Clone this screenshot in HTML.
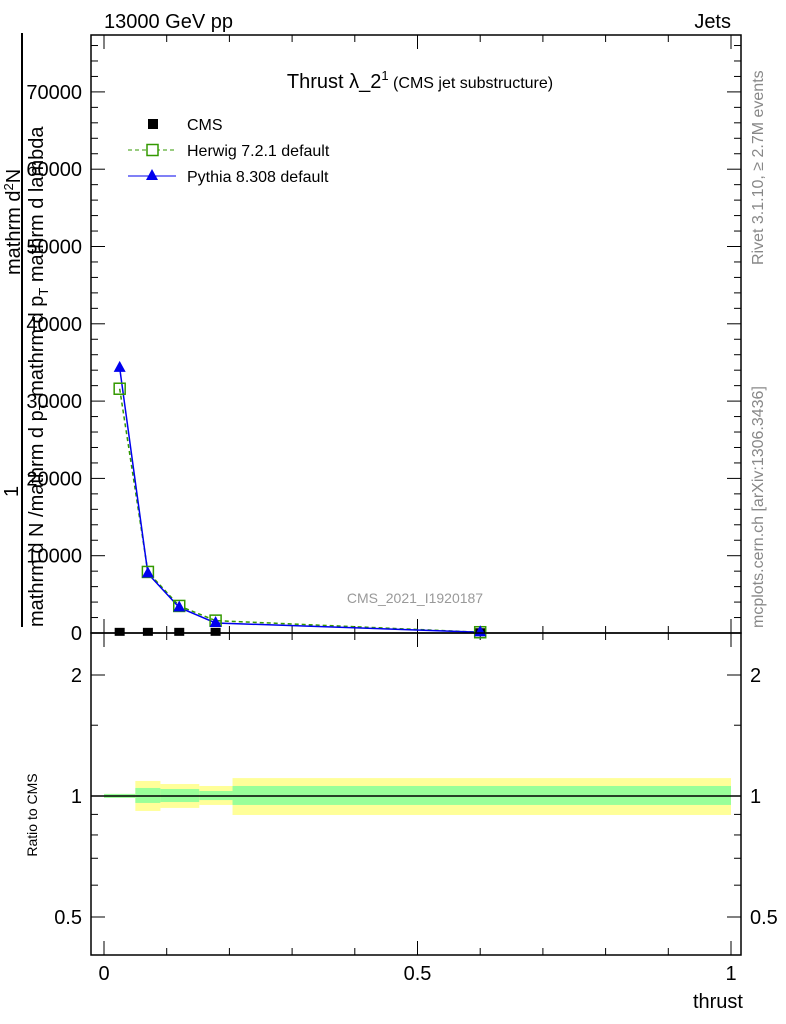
<!DOCTYPE html>
<html><head><meta charset="utf-8"><style>
body{margin:0;background:#fff}
svg{display:block;font-family:"Liberation Sans",sans-serif}
</style></head><body>
<svg id="c" width="786" height="1024" viewBox="0 0 786 1024">
<text x="104" y="28" font-size="20">13000 GeV pp</text>
<text x="731" y="28" font-size="20" text-anchor="end">Jets</text>
<text x="420" y="88" font-size="20" text-anchor="middle">Thrust λ_2<tspan dy="-8" font-size="13">1</tspan><tspan dy="8" font-size="16"> (CMS jet substructure)</tspan></text>
<text x="415" y="603" font-size="14" fill="#999" text-anchor="middle">CMS_2021_I1920187</text>
<g font-size="16" fill="#888">
<text transform="translate(763,265) rotate(-90)">Rivet 3.1.10, ≥ 2.7M events</text>
<text transform="translate(763,628) rotate(-90)">mcplots.cern.ch [arXiv:1306.3436]</text>
</g>
<g font-size="20">
<text transform="translate(20,275) rotate(-90)">mathrm d<tspan dy="-7" font-size="13">2</tspan><tspan dy="7">N</tspan></text>
<text transform="translate(18,497) rotate(-90)">1</text>
<line x1="22" y1="33" x2="22" y2="627" stroke="#000" stroke-width="2"/>
<text transform="translate(43,627) rotate(-90)">mathrm d N /mathrm d p<tspan font-size="13" dy="5">T</tspan><tspan dy="-5"> mathrm d p</tspan><tspan font-size="13" dy="5">T</tspan><tspan dy="-5"> mathrm d lambda</tspan></text>
</g>
<text transform="translate(37,815) rotate(-90)" font-size="14" text-anchor="middle">Ratio to CMS</text>
<text x="743" y="1008" font-size="20" text-anchor="end">thrust</text>
<g id="topg"></g>
<g id="botg"></g>
<g id="legend"></g>
</svg>
<script>
const xCenters=[0.025,0.07,0.12,0.178,0.6];
const binEdges=[0,0.05,0.09,0.152,0.205,1.0];
const cmsValues=[150,150,150,150,100];
const herwigValues=[31600,7900,3500,1600,100];
const pythiaValues=[34300,7700,3300,1300,100];
const yTicks=[0,10000,20000,30000,40000,50000,60000,70000];
const xTicks=[0,0.5,1];
const ratioTicks=[0.5,1,2];
const ratioYellowUp=[1.012,1.09,1.071,1.059,1.108];
const ratioYellowDn=[0.989,0.918,0.934,0.95,0.897];
const ratioGreenUp=[1.012,1.047,1.041,1.029,1.059];
const ratioGreenDn=[0.989,0.961,0.966,0.977,0.95];

(function(){
const NS="http://www.w3.org/2000/svg";
const L=91,R=741,T=35,M=633,B=955;
const X=v=>104+627*v;
const Y=v=>633-v*0.00773;
const RY=r=>796-121*Math.log2(r);
function mk(p,tag,a){const e=document.createElementNS(NS,tag);for(const k in a)e.setAttribute(k,a[k]);p.appendChild(e);return e;}
const tp=document.getElementById('topg'),bt=document.getElementById('botg'),lg=document.getElementById('legend');

for(let i=0;i<xCenters.length;i++){
 let r=mk(bt,'rect',{x:X(binEdges[i]),y:RY(ratioYellowUp[i]),width:X(binEdges[i+1])-X(binEdges[i]),height:RY(ratioYellowDn[i])-RY(ratioYellowUp[i]),fill:'#ffff99'});
 
 
 let g=mk(bt,'rect',{x:X(binEdges[i]),y:RY(ratioGreenUp[i]),width:X(binEdges[i+1])-X(binEdges[i]),height:RY(ratioGreenDn[i])-RY(ratioGreenUp[i]),fill:'#99ff99'});
 
 
}
let ref=mk(bt,'line',{x1:L,x2:R,y1:RY(1),y2:RY(1),stroke:'#000','stroke-width':1.5});



mk(tp,'rect',{x:L,y:T,width:R-L,height:M-T,fill:'none',stroke:'#000','stroke-width':1.5});
mk(bt,'rect',{x:L,y:M,width:R-L,height:B-M,fill:'none',stroke:'#000','stroke-width':1.5});

for(let v=0;v<=76000;v+=2000){
 const y=Y(v);if(y<T)break;
 const len=v%10000==0?14:7;
 mk(tp,'line',{x1:L,x2:L+len,y1:y,y2:y,stroke:'#000'});
 mk(tp,'line',{x1:R,x2:R-len,y1:y,y2:y,stroke:'#000'});
}
yTicks.forEach(v=>{let t=mk(tp,'text',{x:82,y:Y(v)+7,'font-size':20,'text-anchor':'end'});t.textContent=v;
 
 });
[0.5,0.6,0.7,0.8,0.9,1,1.5,2].forEach(r=>{const len=ratioTicks.includes(r)?14:7;
 mk(bt,'line',{x1:L,x2:L+len,y1:RY(r),y2:RY(r),stroke:'#000'});
 mk(bt,'line',{x1:R,x2:R-len,y1:RY(r),y2:RY(r),stroke:'#000'});});
ratioTicks.forEach(r=>{
 let t=mk(bt,'text',{x:82,y:RY(r)+7,'font-size':20,'text-anchor':'end'});t.textContent=r;
 
 
 let t2=mk(bt,'text',{x:750,y:RY(r)+7,'font-size':20});t2.textContent=r;
 
 });
for(let k=0;k<=10;k++){const v=k/10,x=X(v),len=k%5==0?14:7;
 [[M,-1],[T,1],[B,-1],[M,1]].forEach(([y0,d])=>mk(tp,'line',{x1:x,x2:x,y1:y0,y2:y0+d*len,stroke:'#000'}));}
xTicks.forEach(v=>{let t=mk(bt,'text',{x:X(v),y:980,'font-size':20,'text-anchor':'middle'});t.textContent=v;
 
 });

const pts=a=>a.map((v,i)=>X(xCenters[i])+','+Y(v)).join(' ');
let hl=mk(tp,'polyline',{points:pts(herwigValues),fill:'none',stroke:'#339900','stroke-width':1.5,'stroke-dasharray':'4,3'});


let pl=mk(tp,'polyline',{points:pts(pythiaValues),fill:'none',stroke:'#0000ee','stroke-width':1.5});


cmsValues.forEach((v,i)=>{let r=mk(tp,'rect',{x:X(xCenters[i])-5,y:Y(v)-4,width:10,height:8,fill:'#000'});
 
 });
herwigValues.forEach((v,i)=>{let r=mk(tp,'rect',{x:X(xCenters[i])-5.5,y:Y(v)-5.5,width:11,height:11,fill:'none',stroke:'#339900','stroke-width':1.5});
 
 });
pythiaValues.forEach((v,i)=>{const x=X(xCenters[i]),y=Y(v);let p=mk(tp,'polygon',{points:`${x},${y-7} ${x-6},${y+4} ${x+6},${y+4}`,fill:'#0000ee'});
 
 });

const le=[['CMS',124],['Herwig 7.2.1 default',150],['Pythia 8.308 default',176]];
le.forEach(([n,y],i)=>{const g=mk(lg,'g',{});
 
 
 if(i==0)mk(g,'rect',{x:148,y:y-5,width:10,height:10,fill:'#000'});
 if(i==1){mk(g,'line',{x1:128,x2:176,y1:y,y2:y,stroke:'#339900','stroke-dasharray':'4,3'});mk(g,'rect',{x:147,y:y-5.5,width:11,height:11,fill:'#fff',stroke:'#339900','stroke-width':1.5});}
 if(i==2){mk(g,'line',{x1:128,x2:176,y1:y,y2:y,stroke:'#0000ee'});mk(g,'polygon',{points:`152,${y-7} 146,${y+4} 158,${y+4}`,fill:'#0000ee'});}
 const t=mk(g,'text',{x:187,y:y+6,'font-size':16});t.textContent=n;});
})();
</script>
</body></html>
